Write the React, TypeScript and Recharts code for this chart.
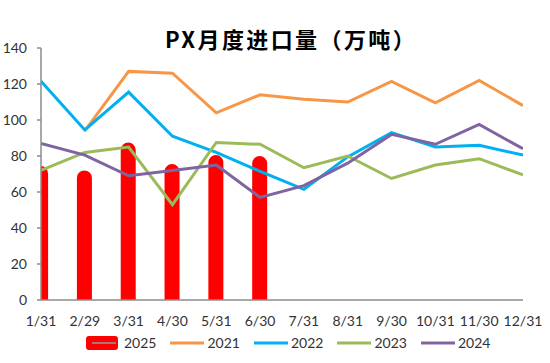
import React from 'react';
import { ComposedChart, Bar, Line, XAxis, YAxis, Legend } from 'recharts';

const categories = ['1/31', '2/29', '3/31', '4/30', '5/31', '6/30', '7/31', '8/31', '9/30', '10/31', '11/30', '12/31'];
const s2025 = [74.5, 72, 87.5, 75.5, 80.5, 80, null, null, null, null, null, null];
const s2021 = [null, 94, 127, 126, 104, 114, 111.5, 110, 121.5, 109.5, 122, 108];
const s2022 = [121.5, 94.5, 115.5, 91, 82, 71.5, 61.5, 79.5, 93, 85, 86, 80.5];
const s2023 = [72, 82, 85, 53, 87.5, 86.5, 73.5, 80, 67.5, 75, 78.5, 69.5];
const s2024 = [87, 80.5, 69, 72, 75, 57, 63.5, 76, 92, 86.5, 97.5, 84];
const yTicks = [0, 20, 40, 60, 80, 100, 120, 140];

const data = categories.map((c, i) => ({
  idx: i,
  cat: c,
  y2025: s2025[i],
  y2021: s2021[i],
  y2022: s2022[i],
  y2023: s2023[i],
  y2024: s2024[i],
}));

const FONT = 'Lato, "Noto Sans", sans-serif';
const TEXT = '#333333';
const AXIS = '#8c8c8c';

const lineItems = [
  { name: '2021', color: '#F79646' },
  { name: '2022', color: '#00B0F0' },
  { name: '2023', color: '#9BBB59' },
  { name: '2024', color: '#8064A2' },
];

const LegendContent = () => (
  <div style={{ height: 33, display: 'flex', alignItems: 'center', paddingLeft: 86, fontFamily: FONT, fontSize: 14, color: TEXT, boxSizing: 'border-box', paddingBottom: 8 }}>
    <div style={{ display: 'flex', alignItems: 'center', marginRight: 14 }}>
      <svg width={32} height={14} style={{ marginRight: 6 }}>
        <rect x={0} y={0} width={32} height={14} rx={3} fill="#FF0000" />
        <line x1={6} y1={7} x2={30} y2={7} stroke="#a07a7a" strokeWidth={2} />
      </svg>
      <span>2025</span>
    </div>
    {lineItems.map((it) => (
      <div key={it.name} style={{ display: 'flex', alignItems: 'center', marginRight: 14 }}>
        <svg width={34} height={14} style={{ marginRight: 3 }}>
          <line x1={0} y1={7} x2={34} y2={7} stroke={it.color} strokeWidth={3} />
        </svg>
        <span>{it.name}</span>
      </div>
    ))}
  </div>
);

export default function App() {
  return (
    <div style={{ position: 'absolute', left: 0, top: 0, width: 550, height: 363, background: '#fff' }}>
      <div style={{ position: 'absolute', left: 0, top: 26, width: 582, textAlign: 'center', fontFamily: '"Noto Sans CJK SC", sans-serif', fontWeight: 'bold', fontSize: 22, lineHeight: '24px', color: '#000', letterSpacing: 2.4 }}>
        PX月度进口量（万吨）
      </div>
      <ComposedChart width={550} height={363} data={data} margin={{ top: 48, right: 27, left: 0, bottom: 0 }}>
        <XAxis
          type="number"
          dataKey="idx"
          domain={[0, 11]}
          ticks={categories.map((_, i) => i)}
          interval={0}
          allowDataOverflow
          tickFormatter={(v: number) => categories[v]}
          axisLine={{ stroke: AXIS, strokeWidth: 1.5 }}
          tickLine={false}
          tickSize={0}
          tickMargin={16}
          height={30}
          tick={{ fill: TEXT, fontFamily: FONT, fontSize: 14 }}
        />
        <YAxis
          domain={[0, 140]}
          ticks={yTicks}
          interval={0}
          width={41}
          axisLine={{ stroke: AXIS, strokeWidth: 1.5 }}
          tickLine={{ stroke: AXIS, strokeWidth: 1.5 }}
          tickSize={4}
          tickMargin={10}
          tick={{ fill: TEXT, fontFamily: FONT, fontSize: 14 }}
        />
        <Legend verticalAlign="bottom" height={33} content={<LegendContent />} />
        <Bar dataKey="y2025" name="2025" fill="#FF0000" barSize={15} radius={[7.5, 7.5, 0, 0]} isAnimationActive={false} />
        <Line dataKey="y2021" name="2021" stroke="#F79646" strokeWidth={3} dot={false} isAnimationActive={false} />
        <Line dataKey="y2022" name="2022" stroke="#00B0F0" strokeWidth={3} dot={false} isAnimationActive={false} />
        <Line dataKey="y2023" name="2023" stroke="#9BBB59" strokeWidth={3} dot={false} isAnimationActive={false} />
        <Line dataKey="y2024" name="2024" stroke="#8064A2" strokeWidth={3} dot={false} isAnimationActive={false} />
      </ComposedChart>
    </div>
  );
}
